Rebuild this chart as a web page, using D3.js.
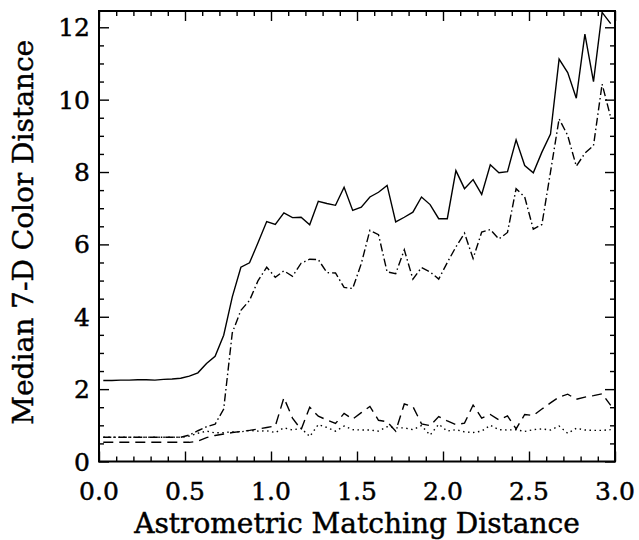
<!DOCTYPE html>
<html><head><meta charset="utf-8">
<script src="https://cdn.jsdelivr.net/npm/d3@7"></script>
<style>html,body{margin:0;padding:0;background:#fff;}svg{display:block;}</style>
</head><body>
<svg id="chart" width="639" height="540"></svg>
<script>
const matchDist = [0.025,0.075,0.125,0.175,0.225,0.275,0.325,0.375,0.425,0.475,
  0.525,0.575,0.625,0.675,0.725,0.775,0.825,0.875,0.925,0.975,
  1.025,1.075,1.125,1.175,1.225,1.275,1.325,1.375,1.425,1.475,
  1.525,1.575,1.625,1.675,1.725,1.775,1.825,1.875,1.925,1.975,
  2.025,2.075,2.125,2.175,2.225,2.275,2.325,2.375,2.425,2.475,
  2.525,2.575,2.625,2.675,2.725,2.775,2.825,2.875,2.925,2.975];

const solidVals = [2.24,2.24,2.25,2.25,2.26,2.26,2.25,2.27,2.28,2.30,
  2.36,2.45,2.71,2.91,3.49,4.55,5.37,5.49,6.05,6.63,
  6.55,6.87,6.74,6.75,6.54,7.19,7.13,7.08,7.58,6.94,
  7.03,7.31,7.44,7.63,6.62,6.75,6.89,7.31,7.10,6.71,
  6.71,8.04,7.54,7.79,7.38,8.20,7.98,8.01,8.89,8.18,
  7.98,8.55,9.05,11.12,10.75,10.04,11.81,10.50,12.41,12.10];

const dashDotVals = [0.67,0.67,0.67,0.67,0.67,0.67,0.67,0.67,0.67,0.67,
  0.73,0.85,0.96,1.03,1.45,3.56,4.18,4.45,5.00,5.37,
  5.09,5.27,5.12,5.48,5.59,5.58,5.22,5.21,4.81,4.78,
  5.47,6.39,6.27,5.24,5.19,5.85,5.04,5.36,5.24,5.04,
  5.50,5.93,6.31,5.61,6.34,6.41,6.15,6.33,7.54,7.31,
  6.42,6.55,8.00,9.47,9.01,8.16,8.52,8.73,10.43,9.51];

const dashedVals = [0.53,0.53,0.53,0.53,0.53,0.53,0.53,0.53,0.53,0.53,
  0.53,0.56,0.66,0.72,0.76,0.80,0.83,0.86,0.90,0.94,
  0.98,1.76,1.20,0.88,1.50,1.25,1.15,1.05,1.33,1.17,
  1.35,1.52,1.14,1.10,0.84,1.59,1.52,1.04,0.99,1.24,
  1.12,1.02,1.06,1.56,1.20,1.30,1.15,1.26,0.90,1.30,
  1.27,1.45,1.62,1.78,1.86,1.72,1.78,1.82,1.87,1.55];

const dottedVals = [0.67,0.67,0.67,0.67,0.67,0.67,0.67,0.67,0.67,0.67,
  0.70,0.78,0.84,0.79,0.80,0.82,0.82,0.86,0.84,0.85,
  0.80,0.93,0.87,0.92,0.69,1.02,0.94,0.84,0.98,0.88,
  0.87,0.87,0.84,0.96,0.93,0.93,0.88,0.99,0.73,1.03,
  0.84,0.88,0.82,0.80,0.84,1.00,0.88,0.87,0.88,0.83,
  0.88,0.90,0.87,0.98,0.78,0.92,0.87,0.86,0.86,0.88];

const xMajorTicks = [0.0,0.5,1.0,1.5,2.0,2.5,3.0];
const xTickLabels = ["0.0","0.5","1.0","1.5","2.0","2.5","3.0"];
const yMajorTicks = [0,2,4,6,8,10,12];
const yTickLabels = ["0","2","4","6","8","10","12"];
const xTitle = "Astrometric Matching Distance";
const yTitle = "Median 7-D Color Distance";

const svg = d3.select("#chart");
const L = 99, R = 615, T = 11, B = 461.5;
const x = d3.scaleLinear().domain([0, 3]).range([L, R]);
const y = d3.scaleLinear().domain([0, 12.45]).range([B, T]);
const font = "'DejaVu Serif', 'Liberation Serif', serif";

const clipId = "plotclip";
svg.append("clipPath").attr("id", clipId).append("rect")
  .attr("x", L).attr("y", T).attr("width", R - L).attr("height", B - T);

const series = [
  {vals: solidVals, dash: null},
  {vals: dashDotVals, dash: "8,3,1.5,3"},
  {vals: dashedVals, dash: "10,6"},
  {vals: dottedVals, dash: "1.5,3.5"}
];
const line = d3.line().x((d, i) => x(matchDist[i])).y(d => y(d));
const g = svg.append("g").attr("clip-path", `url(#${clipId})`);
series.forEach(s => {
  g.append("path").datum(s.vals).attr("d", line)
    .attr("fill", "none").attr("stroke", "#000").attr("stroke-width", 1.4)
    .attr("stroke-linejoin", "miter")
    .attr("stroke-dasharray", s.dash);
});

const xMinor = d3.range(0, 3.0001, 0.1).filter(v => Math.abs(v*2 - Math.round(v*2)) > 1e-6);
const yMinor = d3.range(0, 12.45, 0.5).filter(v => v % 2 !== 0);

function addAxis(axisFn, scale, ticks, size, transform) {
  const a = svg.append("g").attr("transform", transform)
    .call(axisFn(scale).tickValues(ticks).tickSize(size).tickFormat(""));
  a.select(".domain").remove();
  a.selectAll(".tick line").attr("stroke", "#000").attr("stroke-width", 1.4);
}
addAxis(d3.axisBottom, x, xMajorTicks, -10, `translate(0,${B})`);
addAxis(d3.axisBottom, x, xMinor, -5, `translate(0,${B})`);
addAxis(d3.axisTop, x, xMajorTicks, -10, `translate(0,${T})`);
addAxis(d3.axisTop, x, xMinor, -5, `translate(0,${T})`);
addAxis(d3.axisLeft, y, yMajorTicks, -10, `translate(${L},0)`);
addAxis(d3.axisLeft, y, yMinor, -5, `translate(${L},0)`);
addAxis(d3.axisRight, y, yMajorTicks, -10, `translate(${R},0)`);
addAxis(d3.axisRight, y, yMinor, -5, `translate(${R},0)`);

svg.append("rect").attr("x", L).attr("y", T).attr("width", R - L).attr("height", B - T)
  .attr("fill", "none").attr("stroke", "#000").attr("stroke-width", 2);

const textStroke = 0.45;
svg.append("g").selectAll("text").data(xMajorTicks).join("text")
  .attr("x", d => x(d)).attr("y", 500)
  .attr("text-anchor", "middle").attr("font-family", font).attr("font-size", 25)
  .attr("stroke", "#000").attr("stroke-width", textStroke)
  .text((d, i) => xTickLabels[i]);
svg.append("g").selectAll("text").data(yMajorTicks).join("text")
  .attr("x", 90).attr("y", d => y(d) + 9)
  .attr("text-anchor", "end").attr("font-family", font).attr("font-size", 25)
  .attr("stroke", "#000").attr("stroke-width", textStroke)
  .text((d, i) => yTickLabels[i]);

svg.append("text").attr("x", (L + R) / 2).attr("y", 533)
  .attr("text-anchor", "middle").attr("font-family", font).attr("font-size", 28)
  .attr("stroke", "#000").attr("stroke-width", textStroke)
  .text(xTitle);
svg.append("text").attr("transform", `translate(33,${(T + B) / 2 - 4}) rotate(-90)`)
  .attr("text-anchor", "middle").attr("font-family", font).attr("font-size", 28)
  .attr("stroke", "#000").attr("stroke-width", textStroke)
  .text(yTitle);
</script>
</body></html>
